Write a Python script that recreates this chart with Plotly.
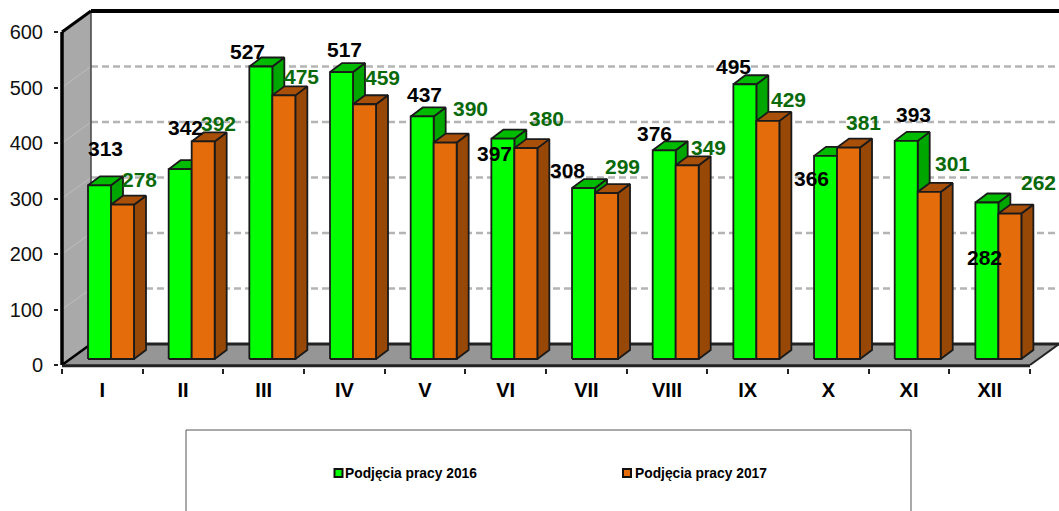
import plotly.graph_objects as go

months = ["I", "II", "III", "IV", "V", "VI", "VII", "VIII", "IX", "X", "XI", "XII"]
podjecia_2016 = [313, 342, 527, 517, 437, 397, 308, 376, 495, 366, 393, 282]
podjecia_2017 = [278, 392, 475, 459, 390, 380, 299, 349, 429, 381, 301, 262]
y_ticks = [0, 100, 200, 300, 400, 500, 600]
name_2016 = "Podjęcia pracy 2016"
name_2017 = "Podjęcia pracy 2017"

# label nudges (pixels) relative to the top of each bar
nudge_x_2016 = [5.5, 5, -13, 2.5, 2, -8, -16.5, -10, -11, -14.5, 7, -2]
nudge_y_2016 = [36.5, 41.5, 15.5, 23, 21.5, -15, 18, 17, 18, -23, 26, -55.5]
nudge_x_2017 = [16.5, 15, 18, 17.5, 25, 21, 15.5, 21, 21, 14.5, 23, 29]
nudge_y_2017 = [25.7, 18.4, 18.4, 26.3, 34.5, 30, 27, 18.3, 21.9, 25.5, 28, 30.6]

# scale / geometry
PX_X = 80.67            # pixels per category
PX_Y = 0.555            # pixels per value unit
L, T_BOTTOM = 59, 368   # plot area edges (pixels)
X_LO = -(62 - L) / PX_X
X_HI = X_LO + (1059 - L) / PX_X
Y_LO = -(T_BOTTOM - 365) / PX_Y
Y_HI = 365 / PX_Y
WALL_DX, WALL_DY = 29 / PX_X, 21 / PX_Y
BAR_DX, BAR_DY = 12 / PX_X, 9 / PX_Y
BASE = 6 / PX_Y
BAR_W = 23 / PX_X
BAR_START = 26 / PX_X

LINE = "#1a1a1a"
GREEN = ("#00ff00", "#00a600", "#00bb00")
ORANGE = ("#e46c0a", "#974706", "#a8500a")

fig = go.Figure()


def face(xs, ys, color):
    fig.add_trace(go.Scatter(
        x=xs + xs[:1], y=ys + ys[:1], mode="lines", fill="toself",
        fillcolor=color, line=dict(color=LINE, width=1.8),
        hoverinfo="skip", showlegend=False))


def bar(x0, value, colors):
    x1 = x0 + BAR_W
    y0, y1 = BASE, BASE + value
    face([x1, x1 + BAR_DX, x1 + BAR_DX, x1], [y0, y0 + BAR_DY, y1 + BAR_DY, y1], colors[1])
    face([x0, x1, x1 + BAR_DX, x0 + BAR_DX], [y1, y1, y1 + BAR_DY, y1 + BAR_DY], colors[2])
    face([x0, x1, x1, x0], [y0, y0, y1, y1], colors[0])


for k in range(len(months)):
    bar(k + BAR_START, podjecia_2016[k], GREEN)
    bar(k + BAR_START + BAR_W, podjecia_2017[k], ORANGE)

n = len(months)
top = y_ticks[-1]
shapes = []


def poly(xs, ys, fill):
    path = "M " + " L ".join(f"{a},{b}" for a, b in zip(xs, ys)) + " Z"
    shapes.append(dict(type="path", path=path, xref="x", yref="y", fillcolor=fill,
                       line=dict(width=0), layer="below"))


def seg(x0, y0, x1, y1, color, width, dash="solid"):
    shapes.append(dict(type="line", x0=x0, y0=y0, x1=x1, y1=y1, xref="x", yref="y",
                       line=dict(color=color, width=width, dash=dash), layer="below"))


# side wall and floor
poly([0, WALL_DX, WALL_DX, 0], [0, WALL_DY, top + WALL_DY, top], "#a9a9a9")
poly([0, n, n + WALL_DX, WALL_DX], [0, 0, WALL_DY, WALL_DY], "#969696")
# gridlines on the back wall and side wall
for v in y_ticks[1:-1]:
    seg(WALL_DX, v + WALL_DY, X_HI, v + WALL_DY, "#b4b4b4", 2.5, "7px,4px")
    seg(0, v, WALL_DX, v + WALL_DY, "#bdbdbd", 1)
# frame
seg(WALL_DX, WALL_DY, X_HI, WALL_DY, "#222222", 3)
seg(WALL_DX, WALL_DY, WALL_DX, top + WALL_DY, "#444444", 1.5)
seg(WALL_DX, top + WALL_DY, X_HI, top + WALL_DY, "#000000", 4)
seg(0, top, WALL_DX, top + WALL_DY, "#000000", 3)
seg(0, 0, WALL_DX, WALL_DY, "#000000", 2.5)
seg(0, 0, 0, top, "#000000", 3.5)
seg(0, -1.5, n, -1.5, "#222222", 3)
seg(n, 0, n + WALL_DX, WALL_DY, "#222222", 2)


def px_x(p):
    return (p - L) / (1059 - L)


def px_y(p):
    return (T_BOTTOM - p) / T_BOTTOM


# legend box and swatches
shapes.append(dict(type="rect", xref="paper", yref="paper",
                   x0=px_x(186), x1=px_x(911), y0=px_y(513), y1=px_y(430),
                   fillcolor="white", line=dict(color="#555555", width=1)))
for cx, col in ((338.5, GREEN[0]), (627, ORANGE[0])):
    shapes.append(dict(type="rect", xref="paper", yref="paper",
                       x0=px_x(cx - 4), x1=px_x(cx + 4), y0=px_y(477), y1=px_y(469),
                       fillcolor=col, line=dict(color="#111111", width=2)))

ann = []
for k in range(n):
    ann.append(dict(x=k + BAR_START + BAR_W / 2, y=BASE + podjecia_2016[k], xref="x", yref="y",
                    text=str(podjecia_2016[k]), showarrow=False, xshift=nudge_x_2016[k],
                    yshift=nudge_y_2016[k], xanchor="center", yanchor="middle",
                    font=dict(family="Liberation Sans", size=21, color="#000000", weight="bold")))
    ann.append(dict(x=k + BAR_START + BAR_W * 1.5, y=BASE + podjecia_2017[k], xref="x", yref="y",
                    text=str(podjecia_2017[k]), showarrow=False, xshift=nudge_x_2017[k],
                    yshift=nudge_y_2017[k], xanchor="center", yanchor="middle",
                    font=dict(family="Liberation Sans", size=21, color="#0a6a0a", weight="bold")))
for px, txt in ((345, name_2016), (635, name_2017)):
    ann.append(dict(x=px_x(px), y=px_y(473), xref="paper", yref="paper", text=txt,
                    showarrow=False, xanchor="left", yanchor="middle", xshift=-2,
                    font=dict(family="Liberation Sans", size=13.8, color="#000000", weight="bold")))

fig.update_layout(
    width=1059, height=511, showlegend=False,
    margin=dict(l=L, r=0, t=0, b=511 - T_BOTTOM, pad=0),
    paper_bgcolor="white", plot_bgcolor="white",
    shapes=shapes, annotations=ann,
    xaxis=dict(range=[X_LO, X_HI], tickmode="array",
               tickvals=[k + 0.5 for k in range(n)], ticktext=months,
               ticks="", showgrid=False, zeroline=False, showline=False,
               ticklabelstandoff=8,
               tickfont=dict(family="Liberation Sans", size=20, color="#000000", weight="bold"),
               minor=dict(tickmode="array", tickvals=list(range(n + 1)), ticks="outside",
                          ticklen=5, tickcolor="#222222", tickwidth=1.5, showgrid=False)),
    yaxis=dict(range=[Y_LO, Y_HI], tickmode="array", tickvals=y_ticks,
               ticks="outside", ticklen=4, tickcolor="#222222", tickwidth=1.5,
               showgrid=False, zeroline=False, showline=False,
               ticklabelstandoff=7,
               tickfont=dict(family="Liberation Sans", size=20, color="#111111")),
)
fig.write_html("out.html", config=dict(displayModeBar=False),
               post_script="document.body.style.margin='0';document.documentElement.style.overflow='hidden';")
